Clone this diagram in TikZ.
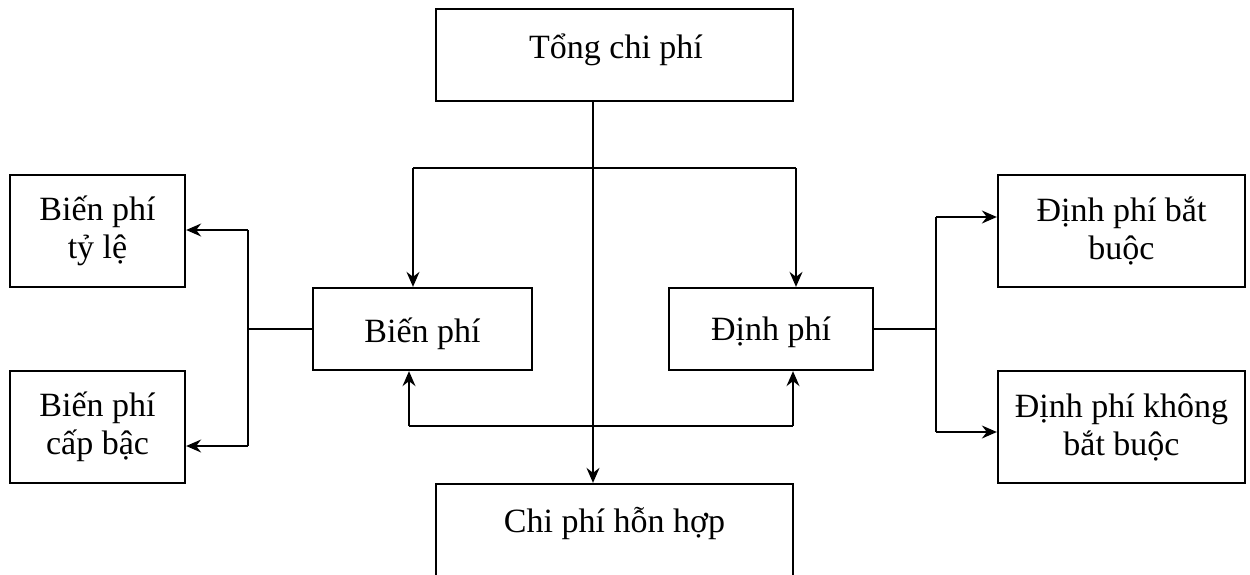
\documentclass[tikz,border=0pt]{standalone}
\usepackage{fontspec}
\setmainfont{Liberation Serif}
\usetikzlibrary{arrows.meta}
\tikzset{
  box/.style={draw, line width=2.3pt, inner sep=0pt, align=center,
    font=\fontsize{34}{38}\selectfont},
  lbl/.style={anchor=base, inner sep=0pt, font=\fontsize{34}{38}\selectfont},
  link/.style={line width=1.6pt},
  arr/.style={link, -{Stealth[length=15pt,width=13pt,inset=5pt]}}
}
\begin{document}
\begin{tikzpicture}[x=1pt,y=-1pt]
  \clip (0,0) rectangle (1250,574);
  \fill[white] (0,0) rectangle (1250,574);

  % centre boxes
  \node[box, minimum width=357pt, minimum height=92pt] (tong) at (614.5,55) {};
  \node[lbl] (tongT) at (616,58) {Tổng chi phí};
  \node[box, minimum width=219pt, minimum height=82pt] (bien) at (422.5,329) {};
  \node[lbl] (bienT) at (422.5,342) {Biến phí};
  \node[box, minimum width=204pt, minimum height=82pt] (dinh) at (771,329) {};
  \node[lbl] (dinhT) at (771,340) {Định phí};
  \node[box, minimum width=357pt, minimum height=120pt] (hon) at (614.5,544) {};
  \node[lbl] (honT) at (614.5,532) {Chi phí hỗn hợp};

  % side boxes
  \node[box, minimum width=175pt, minimum height=112pt] (bptl) at (97.5,231) {Biến phí\\tỷ lệ};
  \node[box, minimum width=175pt, minimum height=112pt] (bpcb) at (97.5,427) {Biến phí\\cấp bậc};
  \node[box, minimum width=247pt, minimum height=112pt] (dpbb) at (1121.5,231) {Định phí bắt\\buộc};
  \node[box, minimum width=247pt, minimum height=112pt] (dpkb) at (1121.5,427) {Định phí không\\bắt buộc};

  % junction points
  \coordinate (tl) at (413,168);
  \coordinate (tr) at (796,168);
  \coordinate (bl) at (409,426);
  \coordinate (br) at (793,426);
  \coordinate (lj) at (248,329);
  \coordinate (lt) at (248,230);
  \coordinate (lb) at (248,446);
  \coordinate (rj) at (936,329);
  \coordinate (rt) at (936,217);
  \coordinate (rb) at (936,432);

  % total cost to the mixed cost
  \draw[arr] (tong.south -| 593,0) -- (hon.north -| 593,0);

  % upper branch
  \draw[link] (tl) -- (tr);
  \draw[arr] (tl) -- (tl |- bien.north);
  \draw[arr] (tr) -- (tr |- dinh.north);

  % lower branch
  \draw[link] (bl) -- (br);
  \draw[arr] (bl) -- (bl |- bien.south);
  \draw[arr] (br) -- (br |- dinh.south);

  % variable cost split
  \draw[link] (bien.west) -- (lj);
  \draw[link] (lt) -- (lb);
  \draw[arr] (lt) -- (lt -| bptl.east);
  \draw[arr] (lb) -- (lb -| bpcb.east);

  % fixed cost split
  \draw[link] (dinh.east) -- (rj);
  \draw[link] (rt) -- (rb);
  \draw[arr] (rt) -- (rt -| dpbb.west);
  \draw[arr] (rb) -- (rb -| dpkb.west);
\end{tikzpicture}
\end{document}
